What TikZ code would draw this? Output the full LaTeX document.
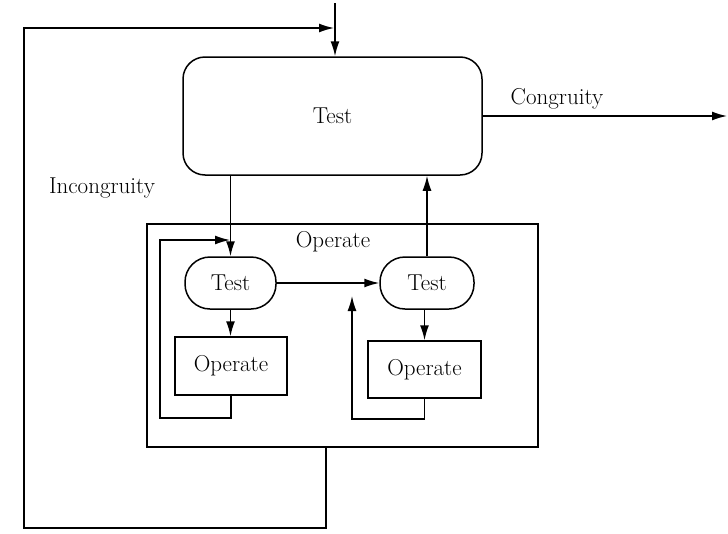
\documentclass[tikz,border=0pt]{standalone}
\usetikzlibrary{arrows.meta}
\begin{document}
\begin{tikzpicture}[x=1pt,y=-1pt,
  line width=1.5pt,
  every node/.style={font=\fontsize{23}{27}\selectfont, inner sep=0pt},
  arr/.style={-{Latex[length=15pt,width=9pt]}},
  bigbox/.style={draw, line width=1.5pt, rounded corners=22pt, minimum width=299pt, minimum height=118pt},
  testbox/.style={draw, line width=1.5pt, rounded corners=25pt, minimum height=52pt},
  opbox/.style={draw, line width=1.5pt, minimum width=112pt, minimum height=58pt},
  outerbox/.style={draw, line width=1.5pt, minimum width=391pt, minimum height=223pt},
  lbl/.style={}
]
\useasboundingbox (0,0) rectangle (728,533);

% nodes
\node[bigbox] (bigtest) at (332.5,116) {Test};
\node[outerbox] (outer) at (342.5,335.5) {};
\node[lbl] (operlbl) at (333,242) {Operate};
\node[testbox, minimum width=91pt] (test1) at (230.5,283) {Test};
\node[testbox, minimum width=94pt] (test2) at (427,283) {Test};
\node[opbox] (op1) at (231,366) {Operate};
\node[opbox, minimum width=113pt, minimum height=57pt] (op2) at (424.5,369.5) {Operate};
\node[lbl] (incong) at (102,188) {Incongruity};
\node[lbl] (cong) at (557,99) {Congruity};

% free-end coordinates
\coordinate (in) at (335,3);
\coordinate (out) at (727,116);
\coordinate (f1) at (326,528);
\coordinate (f2) at (24,528);
\coordinate (f3) at (24,28);
\coordinate (f4) at (334,28);
\coordinate (l1) at (160,418);
\coordinate (l2) at (160,240);
\coordinate (l3) at (230,240);
\coordinate (r1) at (352,419);
\coordinate (r2) at (352,296);

% connectors
\draw[arr] (in) -- (in |- bigtest.north);
\draw[arr] (bigtest.east) -- (out);
\draw[arr] (outer.south -| f1) -- (f1) -- (f2) -- (f3) -- (f4);
\draw[arr] (bigtest.south -| test1.north) -- (test1.north);
\draw[arr] (test2.north) -- (test2.north |- bigtest.south);
\draw[arr] (test1.east) -- (test2.west);
\draw[arr] (test1.south) -- (test1.south |- op1.north);
\draw[arr] (test2.south -| op2.north) -- (op2.north);
\draw[arr] (op1.south) -- (op1.south |- l1) -- (l1) -- (l2) -- (l3);
\draw[arr] (op2.south) -- (op2.south |- r1) -- (r1) -- (r2);
\end{tikzpicture}
\end{document}
